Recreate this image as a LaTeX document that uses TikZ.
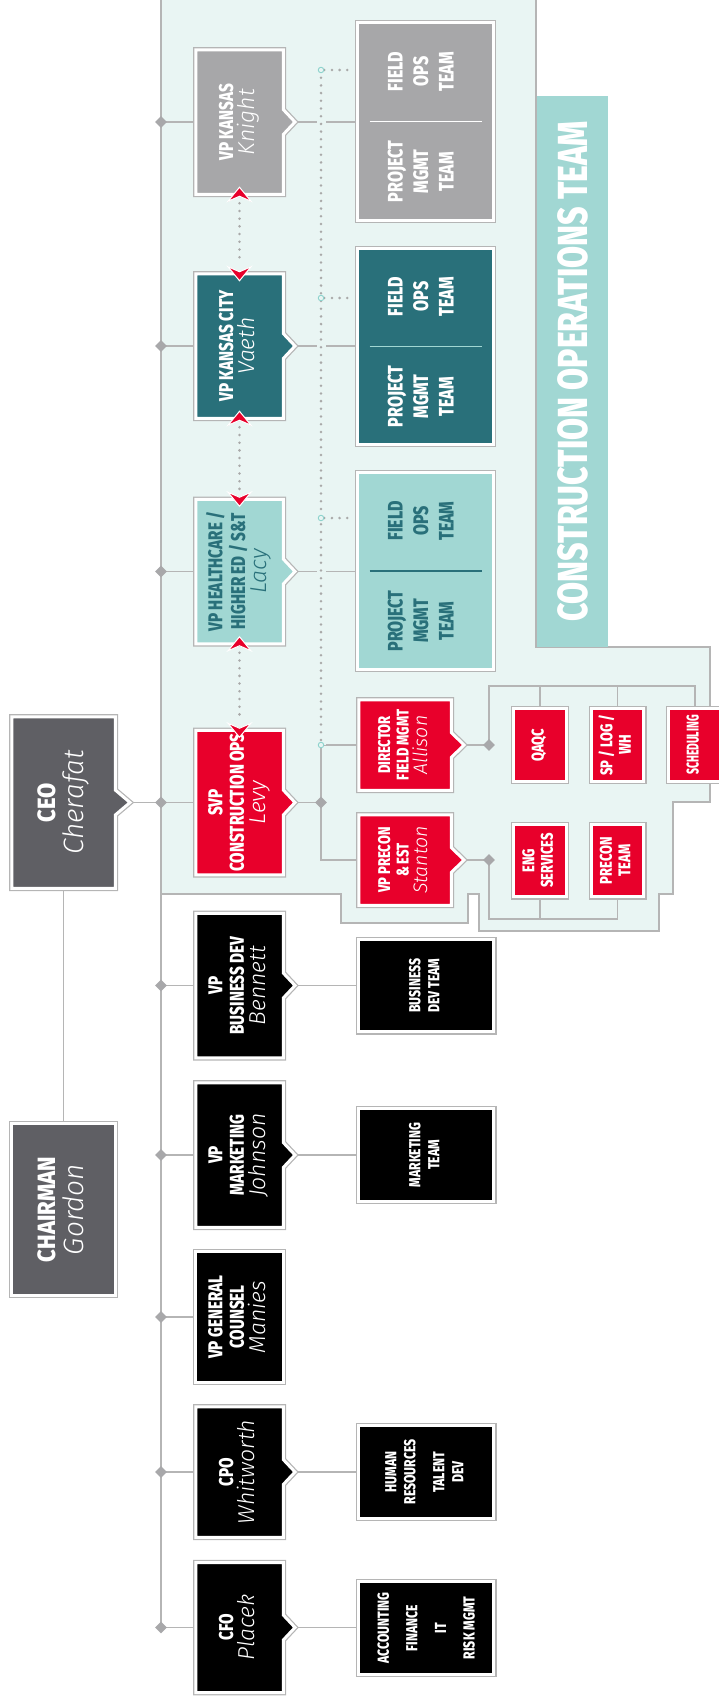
\documentclass[tikz,border=0pt]{standalone}
\usepackage{graphicx}
\usepackage{fontspec}
\setmainfont{Fira Sans}[FakeStretch=0.76, BoldFont={Fira Sans ExtraBold}]
\newfontfamily\widefont{Fira Sans}[FakeStretch=0.88, BoldFont={Fira Sans ExtraBold}]
\newfontfamily\namefont{Fira Sans Light Italic}
\usetikzlibrary{shapes.geometric, shapes.callouts, backgrounds}

\definecolor{bgc}{HTML}{E9F5F3}
\definecolor{lineg}{HTML}{B5B5B5}
\definecolor{diag}{HTML}{A8A8AA}
\definecolor{dkgray}{HTML}{5F5F64}
\definecolor{ksgray}{HTML}{A7A7A9}
\definecolor{tealdk}{HTML}{29707A}
\definecolor{teallt}{HTML}{A1D7D3}
\definecolor{redc}{HTML}{E8002B}
\definecolor{dotg}{HTML}{A9A9A9}
\definecolor{jnc}{HTML}{8ED3CD}

\newcommand{\vt}[1]{\rotatebox{90}{\begin{tabular}{@{}c@{}}#1\end{tabular}}}
\newcommand{\nm}[2][1.15]{{\namefont\mdseries\smash{\scalebox{#1}{#2}}}}
\newcommand{\ceofont}{\widefont\fontsize{25}{28}\selectfont\bfseries}
\newcommand{\vpfont}{\fontsize{20}{21.5}\selectfont\bfseries}
\newcommand{\teamfont}{\fontsize{21}{25.6}\selectfont\bfseries}
\newcommand{\dirfont}{\fontsize{17}{18.5}\selectfont\bfseries}
\newcommand{\smfont}{\fontsize{16}{19}\selectfont\bfseries}
\newcommand{\bannerfont}{\fontsize{42}{42}\selectfont\bfseries}

\begin{document}
\begin{tikzpicture}[
        x=1pt, y=-1pt,
        card/.style={
            fill=#1, draw=white, line width=3pt,
            preaction={draw=lineg, line width=5.5pt},
            inner sep=0pt, outer sep=0pt, text=white
        },
        ptr/.style={rectangle callout, callout absolute pointer={#1}, callout pointer width=25pt},
        big/.style={minimum width=103.5pt, minimum height=171.5pt, font=\ceofont},
        vp/.style={minimum width=87.5pt, minimum height=144.5pt, font=\vpfont},
        team/.style={minimum width=135.5pt, minimum height=196.5pt},
        teamtxt/.style={inner sep=0pt, font=\teamfont, text=white},
        small/.style={minimum width=135.5pt, minimum height=92.5pt, font=\smfont},
        sub/.style={minimum width=92.5pt, minimum height=90.5pt, font=\dirfont},
        tiny/.style={minimum width=52.5pt, minimum height=72.5pt, font=\dirfont},
        dia/.style={diamond, fill=diag, inner sep=0pt, minimum size=12pt},
        jn/.style={circle, draw=jnc, fill=bgc, line width=0.9pt, minimum size=5.5pt, inner sep=0pt},
        conn/.style={draw=lineg, line width=1.4pt},
        dots/.style={draw=dotg, line width=2.8pt, line cap=round, dash pattern=on 0pt off 7.7pt},
        link/.style={dots, shorten <=9pt, shorten >=9pt},
        chev/.pic={\fill[redc, draw=white, line width=1pt, line join=miter] (0,0) -- (11.5,14) -- (0,9) -- (-11.5,14) -- cycle;}
    ]
        \useasboundingbox (0,0) rectangle (718,1705);

        % Construction operations area
        \begin{pgfonlayer}{background}
            \draw[fill=bgc, draw=lineg, line width=1.3pt]
                (161,-3) -- (536,-3) -- (536,647) -- (710,647) -- (710,802) -- (673,802)
                -- (673,894) -- (659,894) -- (659,931) -- (479,931) -- (479,894) -- (468,894)
                -- (468,923) -- (341,923) -- (341,894) -- (161,894) -- cycle;
        \end{pgfonlayer}
        \node[fill=teallt, minimum width=71pt, minimum height=551pt, inner sep=0pt,
            text=white, font=\bannerfont] (banner) at (572.5,371.5)
            {\rotatebox{90}{CONSTRUCTION OPERATIONS TEAM}};

        % CEO and chairman
        \node[card=dkgray, ptr={(130,802.5)}, big] (ceo) at (63.5,802.5) {\vt{CEO\\\nm[1.12]{Cherafat}}};
        \node[card=dkgray, big] (chair) at (63.5,1209.5) {\vt{CHAIRMAN\\\nm[1.12]{Gordon}}};

        % Vice presidents
        \node[card=ksgray, ptr={(295,122)}, vp] (ks) at (239.5,122) {\vt{VP KANSAS\\\nm{Knight}}};
        \node[card=tealdk, ptr={(295,346)}, vp] (kc) at (239.5,346) {\vt{VP KANSAS CITY\\\nm{Vaeth}}};
        \node[card=teallt, ptr={(295,571.5)}, vp, text=tealdk] (hc) at (239.5,571.5) {\vt{VP HEALTHCARE /\\HIGHER ED / S\&T\\\nm{Lacy}}};
        \node[card=redc, ptr={(295,802.5)}, vp] (svp) at (239.5,802.5) {\vt{SVP\\CONSTRUCTION OPS\\\nm{Levy}}};
        \node[card=black, ptr={(295,985.5)}, vp] (bd) at (239.5,985.5) {\vt{VP\\BUSINESS DEV\\\nm{Bennett}}};
        \node[card=black, ptr={(295,1155)}, vp] (mkt) at (239.5,1155) {\vt{VP\\MARKETING\\\nm{Johnson}}};
        \node[card=black, vp, minimum height=130.5pt] (gc) at (239.5,1317) {\vt{VP GENERAL\\COUNSEL\\\nm{Manies}}};
        \node[card=black, ptr={(295,1472)}, vp, minimum height=130.5pt] (cpo) at (239.5,1472) {\vt{CPO\\\nm{Whitworth}}};
        \node[card=black, ptr={(295,1627.5)}, vp, minimum height=130pt] (cfo) at (239.5,1627.5) {\vt{CFO\\\nm{Placek}}};

        % Regional teams
        \node[card=ksgray, team, minimum height=197.5pt] (ksteam) at (425.5,121.5) {};
        \node[teamtxt] (ksfield) at ([xshift=-2.5pt, yshift=50pt]ksteam.center) {\vt{FIELD\\OPS\\TEAM}};
        \node[teamtxt] (ksproj) at ([xshift=-2.5pt, yshift=-50pt]ksteam.center) {\vt{PROJECT\\MGMT\\TEAM}};
        \draw[white, line width=1.2pt] ([xshift=-56pt]ksteam.center) -- ([xshift=56pt]ksteam.center);

        \node[card=tealdk, team, minimum height=195.5pt] (kcteam) at (425.5,346.5) {};
        \node[teamtxt] (kcfield) at ([xshift=-2.5pt, yshift=50pt]kcteam.center) {\vt{FIELD\\OPS\\TEAM}};
        \node[teamtxt] (kcproj) at ([xshift=-2.5pt, yshift=-50pt]kcteam.center) {\vt{PROJECT\\MGMT\\TEAM}};
        \draw[teallt, line width=1.2pt] ([xshift=-56pt]kcteam.center) -- ([xshift=56pt]kcteam.center);

        \node[card=teallt, team] (hcteam) at (425.5,571) {};
        \node[teamtxt, text=tealdk] (hcfield) at ([xshift=-2.5pt, yshift=50pt]hcteam.center) {\vt{FIELD\\OPS\\TEAM}};
        \node[teamtxt, text=tealdk] (hcproj) at ([xshift=-2.5pt, yshift=-50pt]hcteam.center) {\vt{PROJECT\\MGMT\\TEAM}};
        \draw[tealdk, line width=1.2pt] ([xshift=-56pt]hcteam.center) -- ([xshift=56pt]hcteam.center);

        % Construction ops groups
        \node[card=redc, ptr={(464,745)}, sub] (dir) at (405,745) {\vt{DIRECTOR\\FIELD MGMT\\\nm{Allison}}};
        \node[card=redc, ptr={(464,860)}, sub] (prec) at (405,860) {\vt{VP PRECON\\\& EST\\\nm{Stanton}}};
        \node[card=redc, tiny] (qaqc) at (540,745) {\vt{QAQC}};
        \node[card=redc, tiny] (splog) at (617.5,745) {\vt{SP / LOG /\\WH}};
        \node[card=redc, tiny] (sched) at (695,745) {\vt{\scalebox{0.8}[1]{SCHEDULING}}};
        \node[card=redc, tiny] (eng) at (540,860.5) {\vt{ENG\\SERVICES}};
        \node[card=redc, tiny] (precteam) at (617.5,860.5) {\vt{PRECON\\TEAM}};

        % Staff teams
        \node[card=black, small] (bdteam) at (426,985.5) {\vt{BUSINESS\\DEV TEAM}};
        \node[card=black, small] (mktteam) at (426,1155) {\vt{MARKETING\\TEAM}};
        \node[card=black, small] (hr) at (426,1472) {\vt{HUMAN\\RESOURCES\\[10pt]TALENT\\DEV}};
        \node[card=black, small, font=\fontsize{16}{28.6}\selectfont\bfseries] (acc) at (426,1628) {\vt{ACCOUNTING\\FINANCE\\IT\\RISK MGMT}};

        % Diamonds and junctions
        \foreach \n/\y in {dks/122, dkc/346, dhc/571.5, dsvp/802.5, dbd/985.5, dmkt/1155, dgc/1317, dcpo/1472, dcfo/1627.5}
            \node[dia] (\n) at (161,\y) {};
        \node[dia] (dops) at (321,802.5) {};
        \node[dia] (ddir) at (489,745) {};
        \node[dia] (dprec) at (489,860) {};
        \node[jn] (jks) at (321,70) {};
        \node[jn] (jkc) at (321,298) {};
        \node[jn] (jhc) at (321,518) {};
        \node[jn] (jdir) at (321,745) {};
        \coordinate (spinetop) at (161,0);
        \coordinate (tbar) at (0,686);
        \coordinate (bbar) at (0,919);

        % Connectors
        \begin{pgfonlayer}{background}
            \draw[conn] (spinetop) -- (dcfo.center);
            \foreach \d/\b in {dks/ks, dkc/kc, dhc/hc, dsvp/svp, dbd/bd, dmkt/mkt, dgc/gc, dcpo/cpo, dcfo/cfo}
                \draw[conn] (\d.center) -- (\b.west);
            \draw[conn] (ceo.pointer) -- (dsvp.center);
            \draw[conn] (ceo.south) -- (chair.north);
            \foreach \b/\t in {ks/ksteam, kc/kcteam, hc/hcteam, bd/bdteam, mkt/mktteam, cpo/hr, cfo/acc}
                \draw[conn] (\b.pointer) -- (\b.pointer -| \t.west);
            \draw[conn] (svp.pointer) -- (dops.center);
            \draw[conn] (dir.west) -- (jdir.center);
            \draw[conn] (jdir.center) |- (prec.west);
            \draw[conn] (dir.pointer) -- (ddir.center);
            \draw[conn] (prec.pointer) -- (dprec.center);
            \draw[conn] (ddir.center) |- (sched.north |- tbar) -- (sched.north);
            \draw[conn] (qaqc.north) -- (qaqc.north |- tbar);
            \draw[conn] (splog.north) -- (splog.north |- tbar);
            \draw[conn] (dprec.center) |- (precteam.south |- bbar) -- (precteam.south);
            \draw[conn] (eng.south) -- (eng.south |- bbar);
            \draw[dots, preaction={draw=bgc, line width=9pt, solid, line cap=butt}] (jks.center) -- (jdir.center);
            \foreach \j/\t in {jks/ksteam, jkc/kcteam, jhc/hcteam}
                \draw[dots, shorten >=5pt] (\j) -- (\j -| \t.west);
        \end{pgfonlayer}

        % Dotted links between regions
        \foreach \a/\b in {ks/kc, kc/hc, hc/svp} {
            \draw[link] (\a.south) -- (\b.north);
            \pic at ([yshift=7pt]\a.south) {chev};
            \pic[yscale=-1] at ([yshift=-7pt]\b.north) {chev};
        }

    \end{tikzpicture}
\end{document}
